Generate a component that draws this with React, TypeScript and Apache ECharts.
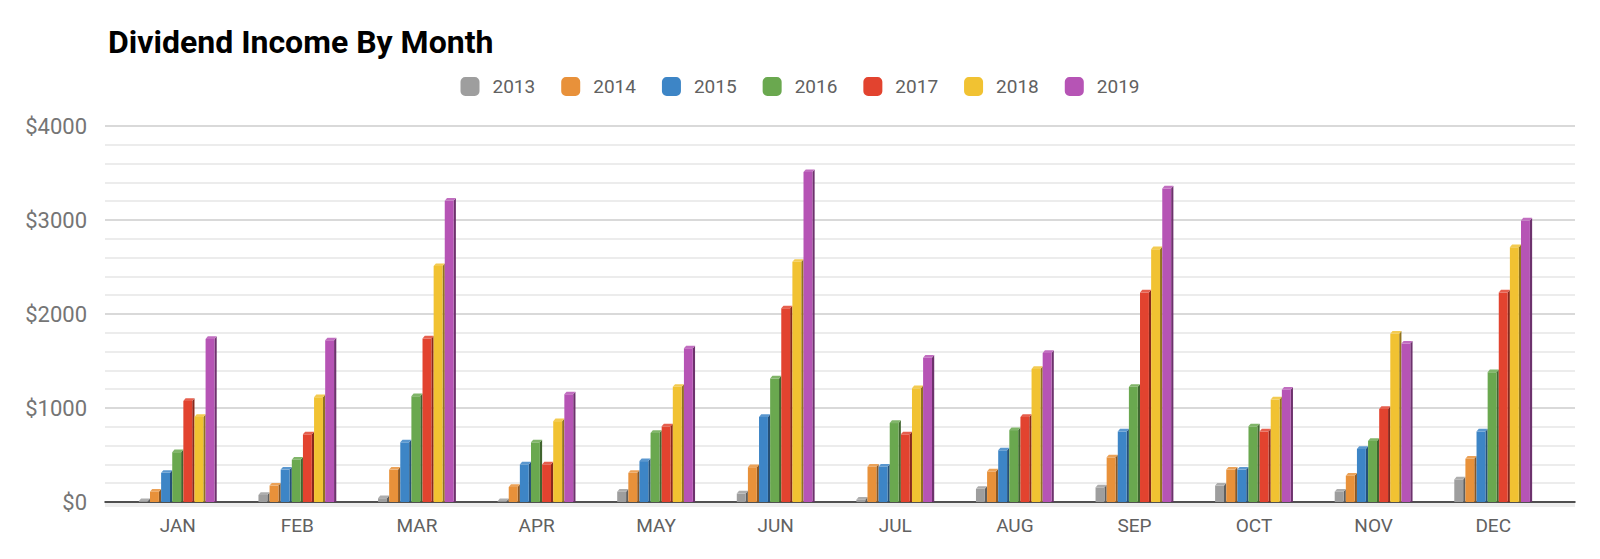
import React, { useEffect, useRef } from "react";
import * as echarts from "echarts";

const months = ["JAN", "FEB", "MAR", "APR", "MAY", "JUN", "JUL", "AUG", "SEP", "OCT", "NOV", "DEC"];
const years = ["2013", "2014", "2015", "2016", "2017", "2018", "2019"];
const colors = ["#9e9e9e", "#e8913a", "#3d85c6", "#6aa84f", "#e2432f", "#f1c232", "#b654b5"];
const yTicks = [0, 1000, 2000, 3000, 4000];

const v2013 = [10, 75, 40, 8, 110, 90, 25, 140, 155, 175, 110, 240];
const v2014 = [110, 175, 345, 160, 310, 370, 375, 325, 475, 345, 280, 460];
const v2015 = [310, 345, 635, 400, 435, 905, 375, 550, 750, 345, 565, 750];
const v2016 = [530, 450, 1125, 635, 735, 1315, 840, 765, 1225, 805, 650, 1380];
const v2017 = [1075, 720, 1740, 400, 805, 2060, 720, 905, 2230, 750, 990, 2230];
const v2018 = [905, 1115, 2510, 860, 1225, 2555, 1210, 1415, 2690, 1090, 1790, 2710];
const v2019 = [1735, 1720, 3205, 1145, 1635, 3510, 1535, 1585, 3335, 1195, 1685, 2995];

const allValues = [v2013, v2014, v2015, v2016, v2017, v2018, v2019];

function shade(hex: string, f: number): string {
  const n = parseInt(hex.slice(1), 16);
  let r = (n >> 16) & 255, g = (n >> 8) & 255, b = n & 255;
  if (f < 0) {
    r = Math.round(r * (1 + f)); g = Math.round(g * (1 + f)); b = Math.round(b * (1 + f));
  } else {
    r = Math.round(r + (255 - r) * f); g = Math.round(g + (255 - g) * f); b = Math.round(b + (255 - b) * f);
  }
  return `rgb(${r},${g},${b})`;
}

export default function App() {
  const ref = useRef<HTMLDivElement>(null);
  useEffect(() => {
    if (!ref.current) return;
    const chart = echarts.init(ref.current, null, { renderer: "svg" });
    const yMax = yTicks[yTicks.length - 1];
    const series: any[] = years.map((y, s) => ({
      type: "custom",
      name: y,
      xAxisIndex: 0,
      yAxisIndex: 0,
      itemStyle: { color: colors[s] },
      data: allValues[s].map((v, i) => [i, v]),
      renderItem: (params: any, api: any) => {
        const idx = api.value(0);
        const val = api.value(1);
        const band = api.size([1, 0])[0];
        const pitch = band * 0.093;
        const d = pitch * 0.2;
        const fw = pitch - d;
        const groupW = pitch * 7;
        const base = api.coord([idx, 0]);
        const topP = api.coord([idx, val]);
        const x0 = base[0] - groupW / 2 + s * pitch;
        const top = topP[1];
        const by = base[1];
        const c = colors[s];
        return {
          type: "group",
          children: [
            {
              type: "polygon",
              shape: { points: [[x0 + fw, by], [x0 + fw, top], [x0 + fw + d, top - d * 1.2], [x0 + fw + d, by]] },
              style: { fill: shade(c, -0.4) },
            },
            {
              type: "rect",
              shape: { x: x0, y: top, width: fw, height: by - top },
              style: { fill: c },
            },
            {
              type: "polygon",
              shape: { points: [[x0, top], [x0 + d, top - d * 1.2], [x0 + fw + d, top - d * 1.2], [x0 + fw, top]] },
              style: { fill: shade(c, 0.15) },
            },
          ],
        };
      },
    }));
    chart.setOption({
      animation: false,
      backgroundColor: "#ffffff",
      textStyle: { fontFamily: "Roboto" },
      title: {
        text: "Dividend Income By Month",
        left: 103,
        top: 21,
        textStyle: { fontFamily: "Roboto", fontWeight: "bold", fontSize: 32, color: "#000000" },
      },
      legend: {
        top: 72,
        left: "center",
        itemWidth: 19,
        itemHeight: 19,
        itemGap: 26,
        icon: "roundRect",
        textStyle: { fontFamily: "Roboto", fontSize: 19, color: "#616161", padding: [0, 0, 0, 8] },
        data: years,
      },
      graphic: [
        { type: "rect", shape: { x: 105, y: 503, width: 1470, height: 4 }, style: { fill: "#ededed" }, z: 0 },
      ],
      grid: [
        { left: 118, right: 47, top: 126, bottom: 57, containLabel: false },
        { left: 105, right: 25, top: 126, bottom: 57, containLabel: false },
      ],
      xAxis: [
        {
          type: "category",
          gridIndex: 0,
          data: months,
          axisLine: { show: false },
          axisTick: { show: false },
          axisLabel: { fontFamily: "Roboto", fontSize: 19, color: "#616161", margin: 14 },
        },
        {
          type: "value",
          gridIndex: 1,
          min: 0,
          max: 1,
          axisLine: { show: true, lineStyle: { color: "#222222", width: 1.5 } },
          axisTick: { show: false },
          axisLabel: { show: false },
          splitLine: { show: false },
        },
      ],
      yAxis: [
        {
          type: "value",
          gridIndex: 0,
          min: 0,
          max: yMax,
          show: false,
          splitLine: { show: false },
        },
        {
          type: "value",
          gridIndex: 1,
          min: 0,
          max: yMax,
          interval: 1000,
          axisLine: { show: false },
          axisTick: { show: false },
          axisLabel: { fontFamily: "Roboto", fontSize: 22, color: "#757575", margin: 18, formatter: (v: number) => "$" + v },
          splitLine: { lineStyle: { color: "#cccccc", width: 1.5 } },
          minorTick: { show: false, splitNumber: 5 },
          minorSplitLine: { show: true, lineStyle: { color: "#e6e6e6", width: 1.5 } },
        },
      ],
      series,
    });
    return () => chart.dispose();
  }, []);
  return <div ref={ref} style={{ position: "fixed", left: 0, top: 0, width: 1600, height: 559 }} />;
}
